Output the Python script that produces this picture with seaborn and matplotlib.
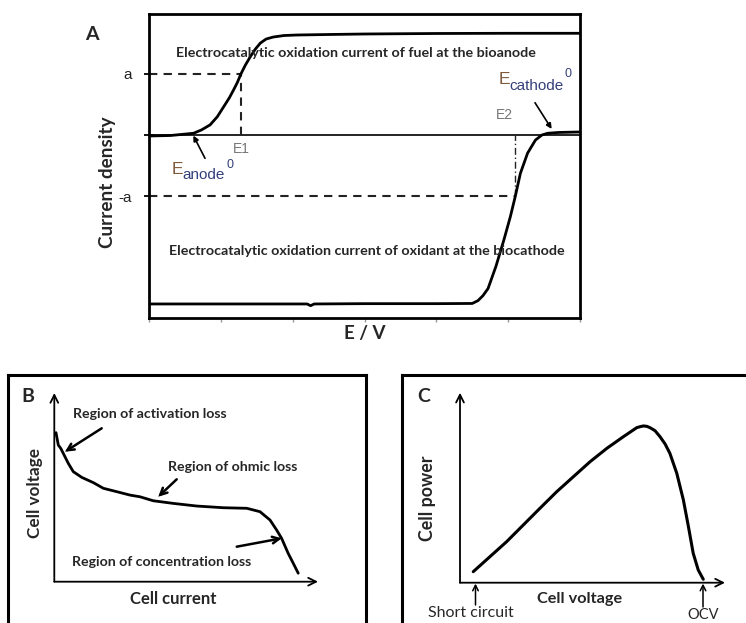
import matplotlib
matplotlib.use("Agg")
import matplotlib.pyplot as plt
import seaborn as sns

W, H = 746, 623

# ---- Panel A: polarisation curves of the bioanode and the biocathode ----
e_anode = [0.0, 0.3, 0.62, 0.73, 0.85, 0.95, 1.04, 1.12, 1.18, 1.23, 1.28, 1.34,
           1.41, 1.48, 1.55, 1.63, 1.73, 1.88, 2.06, 2.5, 3.0, 4.0, 5.0, 6.0]
j_anode = [-0.01, -0.005, 0.017, 0.05, 0.10, 0.18, 0.28, 0.37, 0.45, 0.52, 0.605, 0.69,
           0.775, 0.85, 0.91, 0.95, 0.97, 0.985, 0.99, 0.995, 1.0, 1.005, 1.007, 1.007]
e_cathode = [0.0, 1.0, 2.2, 2.25, 2.3, 3.0, 4.0, 4.5, 4.58, 4.65, 4.72, 4.83, 4.94,
             5.03, 5.10, 5.17, 5.27, 5.38, 5.47, 5.55, 5.7, 6.0]
j_cathode = [-1.673, -1.673, -1.673, -1.69, -1.673, -1.670, -1.670, -1.668, -1.64, -1.59,
             -1.52, -1.30, -1.04, -0.81, -0.605, -0.38, -0.18, -0.05, 0.0, 0.017, 0.025, 0.03]
a_level = 0.605
e1 = 1.28
e2 = 5.10
e_ticks = [0, 1, 2, 3, 4, 5, 6]
j_tick_labels = ["-a", "", "a"]

# ---- Panel B: cell voltage vs. cell current ----
b_current = [0.0064, 0.0152, 0.0243, 0.0341, 0.0531, 0.0721, 0.104, 0.148, 0.186, 0.237,
             0.287, 0.325, 0.375, 0.451, 0.540, 0.641, 0.730, 0.780, 0.818, 0.843, 0.862,
             0.887, 0.906, 0.925]
b_voltage = [0.790, 0.724, 0.707, 0.680, 0.627, 0.583, 0.553, 0.525, 0.495, 0.477,
             0.459, 0.450, 0.429, 0.415, 0.401, 0.392, 0.389, 0.371, 0.327, 0.274, 0.230,
             0.150, 0.098, 0.045]

# ---- Panel C: cell power vs. cell voltage ----
c_voltage = [0.050, 0.113, 0.176, 0.239, 0.302, 0.365, 0.428, 0.491, 0.554, 0.616, 0.667,
             0.679, 0.692, 0.705, 0.717, 0.736, 0.755, 0.774, 0.792, 0.818, 0.843, 0.862,
             0.880, 0.899, 0.918]
c_power = [0.058, 0.137, 0.216, 0.304, 0.392, 0.479, 0.558, 0.637, 0.707, 0.768, 0.816,
           0.821, 0.825, 0.823, 0.816, 0.800, 0.768, 0.730, 0.681, 0.576, 0.435, 0.295,
           0.155, 0.067, 0.018]

sns.set_theme(style="white")
plt.rcParams["font.family"] = ["Lato", "DejaVu Sans"]

fig = plt.figure(figsize=(W / 100, H / 100), dpi=100)
fig.patch.set_facecolor("white")


def px_axes(l, t, r, b):
    ax = fig.add_axes([l / W, 1 - b / H, (r - l) / W, (b - t) / H])
    ax.set_facecolor("none")
    return ax


def px_text(x, y, s, **kw):
    kw.setdefault("ha", "center")
    kw.setdefault("va", "center")
    return fig.text(x / W, 1 - y / H, s, **kw)


def px_arrow(x0, y0, x1, y1, style="-|>", lw=1.2, ms=8):
    fig.add_artist(matplotlib.patches.FancyArrowPatch(
        (x0 / W, 1 - y0 / H), (x1 / W, 1 - y1 / H), transform=fig.transFigure,
        arrowstyle=style, mutation_scale=ms, lw=lw, color="black",
        shrinkA=0, shrinkB=0, joinstyle="miter"))


curve_kw = dict(sort=False, estimator=None, color="black",
                solid_joinstyle="round", solid_capstyle="round")

# ================= Panel A =================
axA = px_axes(149, 14, 580, 318)
axA.set_xlim(0, 6)
axA.set_ylim(-1.812, 1.198)
for sp in axA.spines.values():
    sp.set_visible(True)
    sp.set_color("black")
    sp.set_linewidth(2.0)

axA.axhline(0, color="black", lw=1.2, zorder=2)
sns.lineplot(x=e_anode, y=j_anode, lw=2.0, ax=axA, zorder=3, **curve_kw)
sns.lineplot(x=e_cathode, y=j_cathode, lw=2.0, ax=axA, zorder=3, **curve_kw)

axA.plot([0, e1], [a_level, a_level], color="#222222", lw=1.5, ls=(0, (4, 3)))
axA.plot([e1, e1], [0, a_level], color="#222222", lw=1.5, ls=(0, (4, 3)))
axA.plot([0, e2], [-a_level, -a_level], color="#222222", lw=1.5, ls=(0, (4, 3)))
axA.plot([e2, e2], [-a_level, 0], color="#222222", lw=1.0, ls=(0, (5, 2, 1, 2)))

axA.set_xticks(e_ticks)
axA.set_xticklabels([])
axA.tick_params(axis="x", bottom=True, direction="out", length=3, width=1,
                color="#999999")
axA.set_yticks([-a_level, 0, a_level])
axA.set_yticklabels(j_tick_labels, fontsize=11, family="Liberation Sans",
                    color="#222222")
axA.tick_params(axis="y", left=True, direction="inout", length=7, width=1.3,
                color="black", pad=9)
axA.set_xlabel("")
axA.set_ylabel("")

px_text(92, 35, "A", fontsize=14, fontweight="bold")
px_text(107, 182, "Current density", rotation=90, fontsize=13.6, fontweight="bold")
px_text(365, 333, "E / V", fontsize=13.5, fontweight="bold")
px_text(356, 53, "Electrocatalytic oxidation current of fuel at the bioanode",
        fontsize=10.3, fontweight="bold")
px_text(367, 251, "Electrocatalytic oxidation current of oxidant at the biocathode",
        fontsize=10.3, fontweight="bold")
px_text(241.5, 149, "E1", fontsize=10, color="#777777", family="Liberation Sans")
px_text(504, 115, "E2", fontsize=10, color="#777777", family="Liberation Sans")

e_col, sub_col = "#7d5a3c", "#34407a"
px_text(177, 169, "E", fontsize=12.5, color=e_col, family="Liberation Sans")
px_text(204, 175, "anode", fontsize=11, color=sub_col, family="Liberation Sans")
px_text(230, 165.5, "0", fontsize=9, color=sub_col, family="Liberation Sans")
px_text(504.7, 79, "E", fontsize=12.5, color=e_col, family="Liberation Sans")
px_text(537, 85.7, "cathode", fontsize=11, color=sub_col, family="Liberation Sans")
px_text(568.3, 74, "0", fontsize=9, color=sub_col, family="Liberation Sans")
px_arrow(205, 158.3, 193.3, 135.5)
px_arrow(535, 102.7, 551.7, 129)

# ================= Panel frames B and C =================
boxB = px_axes(8, 375, 366, 660)
boxC = px_axes(402, 375, 790, 660)
for box, hide in ((boxB, ("bottom",)), (boxC, ("bottom", "right"))):
    box.set_xticks([])
    box.set_yticks([])
    for name, sp in box.spines.items():
        sp.set_visible(name not in hide)
        sp.set_color("black")
        sp.set_linewidth(2.2)


def arrow_axes(ax):
    ax.set_xlim(0, 1)
    ax.set_ylim(0, 1)
    ax.set_axis_off()
    for end in ((1, 0), (0, 1)):
        ax.annotate("", xy=end, xytext=(0, 0), xycoords="axes fraction",
                    arrowprops=dict(arrowstyle="->", lw=1.3, color="black",
                                    shrinkA=0, shrinkB=0, mutation_scale=14))


# ================= Panel B =================
axB = px_axes(54.3, 393, 318, 581.7)
arrow_axes(axB)
sns.lineplot(x=b_current, y=b_voltage, lw=2.0, ax=axB, **curve_kw)
axB.set_xlim(0, 1)
axB.set_ylim(0, 1)

px_text(28, 396, "B", fontsize=14, fontweight="bold")
px_text(35, 493, "Cell voltage", rotation=90, fontsize=12.3, fontweight="bold")
px_text(173.5, 598.5, "Cell current", fontsize=12, fontweight="bold")
px_text(72.7, 414.3, "Region of activation loss", fontsize=10.2, fontweight="bold", ha="left")
px_text(168.3, 467.3, "Region of ohmic loss", fontsize=10.2, fontweight="bold", ha="left")
px_text(72.3, 561.7, "Region of concentration loss", fontsize=10.2, fontweight="bold", ha="left")
px_arrow(101.7, 428.3, 65, 451.7, style="->", lw=1.8, ms=12)
px_arrow(176.7, 479.3, 158.3, 496.7, style="->", lw=1.8, ms=12)
px_arrow(236.7, 546.7, 281.7, 538.3, style="->", lw=1.8, ms=12)

# ================= Panel C =================
axC = px_axes(460, 392.7, 725, 582.7)
arrow_axes(axC)
sns.lineplot(x=c_voltage, y=c_power, lw=2.2, ax=axC, **curve_kw)
axC.set_xlim(0, 1)
axC.set_ylim(0, 1)

px_text(424, 396, "C", fontsize=14, fontweight="bold")
px_text(427, 498, "Cell power", rotation=90, fontsize=12.8, fontweight="bold")
px_text(579.5, 599, "Cell voltage", fontsize=11.7, fontweight="bold")
px_text(471, 613, "Short circuit", fontsize=11.5)
px_text(703, 615, "OCV", fontsize=10.5)
px_arrow(475.5, 605, 475.5, 583.5, style="->", lw=1.1, ms=10)
px_arrow(703, 607, 703, 583.5, style="->", lw=1.1, ms=10)

fig.savefig("out.png", dpi=100, facecolor="white")
